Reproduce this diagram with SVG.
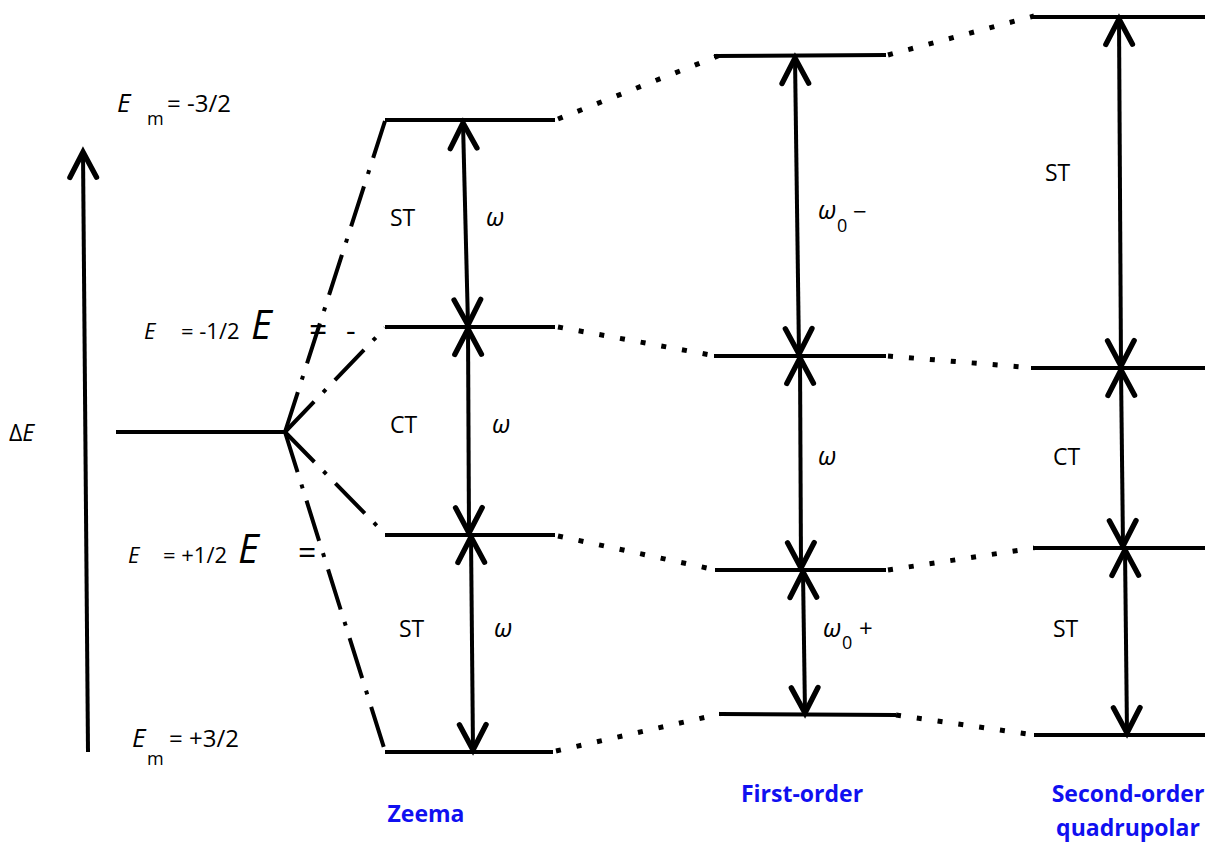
<svg xmlns="http://www.w3.org/2000/svg" width="1215" height="843" viewBox="0 0 1215 843">
  <style>
    .lvl { stroke: #000; stroke-width: 4; fill: none; stroke-linecap: square; }
    .arr { stroke: #000; stroke-width: 4; fill: none; marker-start: url(#head); marker-end: url(#head); }
    .dd { stroke: #000; stroke-width: 4; fill: none; stroke-dasharray: 42 13 4 13; }
    .dot { stroke: #000; stroke-width: 5; fill: none; stroke-dasharray: 5 16; }
    .t { font-family: "Open Sans", "Liberation Sans", sans-serif; fill: #000; }
    .i { font-style: italic; }
    .lab { font-size: 23px; }
    .w { font-size: 25px; font-style: italic; }
    .sub { font-size: 18px; }
    .cap { font-family: "Open Sans", "Liberation Sans", sans-serif; font-size: 23px; font-weight: bold; fill: #1010f0; text-anchor: middle; }
  </style>
  <defs>
    <marker id="head" markerUnits="userSpaceOnUse" markerWidth="40" markerHeight="40" viewBox="-25 -15 30 30" refX="0" refY="0" orient="auto-start-reverse">
      <path d="M-19,-10 L0,0 L-19,10" stroke="#000" stroke-width="4" fill="none" stroke-linecap="round"/>
    </marker>
  </defs>
  <rect width="1215" height="843" fill="#fff"/>

  <!-- energy axis -->
  <g id="axis">
    <line x1="88" y1="752" x2="83" y2="152" stroke="#000" stroke-width="4" marker-end="url(#head)"/>
    <text class="t" x="9" y="441" style="font-size:23px">Δ<tspan class="i">E</tspan></text>
  </g>

  <!-- state labels -->
  <g id="labels">
    <text class="t i" x="117" y="112" style="font-size:26px">E</text>
    <text class="t sub" x="147" y="125">m</text>
    <text class="t" x="167" y="112" style="font-size:24px">= -3/2</text>

    <text class="t i" x="144" y="339" style="font-size:22px">E</text>
    <text class="t" x="181" y="339" style="font-size:22px">= -1/2</text>
    <text class="t i" x="251" y="339" style="font-size:40px">E</text>
    <text class="t" x="309" y="341" style="font-size:32px">=</text>
    <text class="t" x="346" y="341" style="font-size:30px">-</text>

    <text class="t i" x="128" y="563" style="font-size:22px">E</text>
    <text class="t" x="163" y="563" style="font-size:22px">= +1/2</text>
    <text class="t i" x="238" y="563" style="font-size:40px">E</text>
    <text class="t" x="298" y="564" style="font-size:32px">=</text>

    <text class="t i" x="132" y="747" style="font-size:26px">E</text>
    <text class="t sub" x="147" y="765">m</text>
    <text class="t" x="169" y="747" style="font-size:24px">= +3/2</text>
  </g>

  <!-- unperturbed level -->
  <g id="level-0">
    <line class="lvl" x1="118" y1="432" x2="285" y2="432"/>
  </g>

  <!-- Zeeman levels -->
  <g id="zeeman">
    <line class="lvl" x1="387" y1="120" x2="553" y2="120"/>
    <line class="lvl" x1="387" y1="327" x2="553" y2="327"/>
    <line class="lvl" x1="387" y1="535" x2="553" y2="535"/>
    <line class="lvl" x1="387" y1="752" x2="551" y2="752"/>
    <text class="t lab" x="390" y="226">ST</text>
    <text class="t w" x="486" y="226">ω</text>
    <text class="t lab" x="390" y="433">CT</text>
    <text class="t w" x="492" y="433">ω</text>
    <text class="t lab" x="399" y="637">ST</text>
    <text class="t w" x="494" y="637">ω</text>
    <text class="cap" x="426" y="822">Zeema</text>
  </g>

  <!-- first-order quadrupolar levels -->
  <g id="first-order">
    <line class="lvl" x1="716" y1="56" x2="884" y2="55"/>
    <line class="lvl" x1="716" y1="356" x2="884" y2="356"/>
    <line class="lvl" x1="717" y1="570" x2="884" y2="570"/>
    <line class="lvl" x1="721" y1="714" x2="894" y2="715"/>
    <text class="t w" x="818" y="219">ω</text>
    <text class="t sub" x="837" y="232">0</text>
    <text class="t" x="853" y="220" style="font-size:24px">−</text>
    <text class="t w" x="818" y="465">ω</text>
    <text class="t w" x="823" y="637">ω</text>
    <text class="t sub" x="842" y="649">0</text>
    <text class="t" x="859" y="637" style="font-size:24px">+</text>
    <text class="cap" x="802" y="802">First-order</text>
  </g>

  <!-- second-order quadrupolar levels -->
  <g id="second-order">
    <line class="lvl" x1="1035" y1="17" x2="1203" y2="17"/>
    <line class="lvl" x1="1033" y1="368" x2="1203" y2="368"/>
    <line class="lvl" x1="1035" y1="548" x2="1203" y2="548"/>
    <line class="lvl" x1="1036" y1="735" x2="1203" y2="735"/>
    <text class="t lab" x="1045" y="181">ST</text>
    <text class="t lab" x="1053" y="465">CT</text>
    <text class="t lab" x="1053" y="637">ST</text>
    <text class="cap" x="1128" y="802">Second-order</text>
    <text class="cap" x="1128" y="836">quadrupolar</text>
  </g>

  <!-- connectors: splitting lines, correlation dots and transition arrows -->
  <g id="connectors">
    <line class="dd" x1="285" y1="432" x2="385" y2="121"/>
    <line class="dd" x1="285" y1="432" x2="385" y2="328"/>
    <line class="dd" x1="285" y1="432" x2="385" y2="534"/>
    <line class="dd" x1="285" y1="432" x2="385" y2="751"/>

    <line class="dot" x1="558" y1="119" x2="718" y2="56"/>
    <line class="dot" x1="558" y1="327" x2="716" y2="356"/>
    <line class="dot" x1="558" y1="536" x2="716" y2="570"/>
    <line class="dot" x1="556" y1="751" x2="720" y2="714"/>

    <line class="dot" x1="888" y1="55" x2="1034" y2="16"/>
    <line class="dot" x1="888" y1="356" x2="1034" y2="368"/>
    <line class="dot" x1="888" y1="570" x2="1034" y2="548"/>
    <line class="dot" x1="896" y1="715" x2="1034" y2="735"/>

    <line class="arr" x1="463" y1="123" x2="468" y2="325"/>
    <line class="arr" x1="468" y1="329" x2="469" y2="533"/>
    <line class="arr" x1="471" y1="537" x2="473" y2="750"/>

    <line class="arr" x1="795" y1="58" x2="799" y2="354"/>
    <line class="arr" x1="800" y1="358" x2="801" y2="568"/>
    <line class="arr" x1="803" y1="572" x2="805" y2="713"/>

    <line class="arr" x1="1119" y1="19" x2="1121" y2="366"/>
    <line class="arr" x1="1121" y1="370" x2="1123" y2="546"/>
    <line class="arr" x1="1125" y1="550" x2="1127" y2="733"/>
  </g>
</svg>
